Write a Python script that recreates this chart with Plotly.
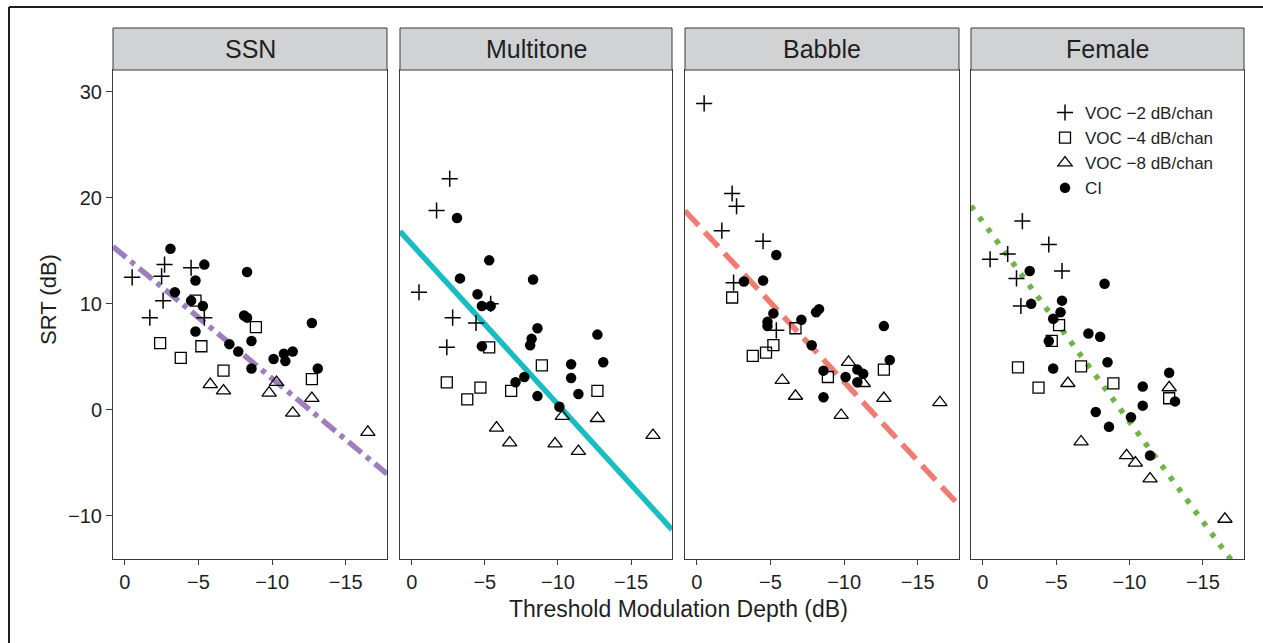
import plotly.graph_objects as go

# ---------------------------------------------------------------- data
panels = ["SSN", "Multitone", "Babble", "Female"]
series_names = ["VOC \u22122 dB/chan", "VOC \u22124 dB/chan", "VOC \u22128 dB/chan", "CI"]

# SSN
ssn_voc2_x = [-0.5, -2.7, -2.5, -4.5, -2.6, -1.7, -5.4]
ssn_voc2_y = [12.5, 13.7, 12.6, 13.4, 10.3, 8.7, 8.7]
ssn_voc4_x = [-2.4, -3.8, -5.2, -4.8, -8.9, -6.7, -12.7]
ssn_voc4_y = [6.3, 4.9, 6.0, 10.3, 7.8, 3.7, 2.9]
ssn_voc8_x = [-5.8, -6.7, -9.8, -10.3, -11.4, -12.7, -16.5]
ssn_voc8_y = [2.4, 1.8, 1.6, 2.6, -0.3, 1.1, -2.1]
ssn_ci_x = [-3.1, -5.4, -4.8, -8.3, -3.4, -4.5, -5.3, -8.1, -8.3, -4.8,
            -12.7, -8.6, -7.1, -7.7, -10.1, -10.8, -11.4, -10.9, -13.1, -8.6]
ssn_ci_y = [15.2, 13.7, 12.2, 13.0, 11.1, 10.3, 9.8, 8.9, 8.7, 7.4,
            8.2, 6.5, 6.2, 5.5, 4.8, 5.3, 5.5, 4.6, 3.9, 3.9]

# Multitone
mt_voc2_x = [-2.6, -1.7, -0.5, -2.8, -2.4, -4.4, -5.4]
mt_voc2_y = [21.8, 18.8, 11.1, 8.7, 5.9, 8.2, 10.0]
mt_voc4_x = [-2.4, -3.8, -4.7, -5.3, -6.8, -8.9, -12.7]
mt_voc4_y = [2.6, 1.0, 2.1, 5.9, 1.8, 4.2, 1.8]
mt_voc8_x = [-5.8, -6.7, -9.8, -10.3, -11.4, -12.7, -16.5]
mt_voc8_y = [-1.7, -3.1, -3.2, -0.6, -3.9, -0.8, -2.4]
mt_ci_x = [-3.1, -5.3, -3.3, -8.3, -4.5, -4.8, -5.4, -8.6, -8.2, -8.1,
           -4.8, -12.7, -13.1, -10.9, -10.9, -7.7, -7.1, -8.6, -11.4, -10.1]
mt_ci_y = [18.1, 14.1, 12.4, 12.3, 10.9, 9.8, 9.8, 7.7, 6.7, 6.1,
           6.0, 7.1, 4.5, 4.3, 3.0, 3.1, 2.6, 1.3, 1.5, 0.3]

# Babble
bab_voc2_x = [-0.5, -2.4, -2.7, -1.7, -4.5, -2.5, -5.4]
bab_voc2_y = [28.9, 20.4, 19.2, 16.9, 15.9, 12.0, 7.5]
bab_voc4_x = [-2.4, -3.8, -4.7, -5.2, -6.7, -8.9, -12.7]
bab_voc4_y = [10.6, 5.1, 5.4, 6.1, 7.7, 3.1, 3.8]
bab_voc8_x = [-5.8, -6.7, -9.8, -10.3, -11.3, -12.7, -16.5]
bab_voc8_y = [2.8, 1.3, -0.5, 4.5, 2.5, 1.1, 0.7]
bab_ci_x = [-5.4, -3.2, -4.5, -8.3, -8.1, -5.2, -7.1, -4.8, -4.8, -7.8,
            -12.7, -13.1, -8.6, -10.9, -11.3, -10.1, -10.9, -8.6]
bab_ci_y = [14.6, 12.1, 12.2, 9.5, 9.2, 9.1, 8.5, 8.3, 7.9, 6.1,
            7.9, 4.7, 3.7, 3.8, 3.4, 3.1, 2.6, 1.2]

# Female
fem_voc2_x = [-2.7, -4.5, -0.5, -1.7, -5.4, -2.3, -2.6]
fem_voc2_y = [17.8, 15.6, 14.2, 14.7, 13.1, 12.4, 9.8]
fem_voc4_x = [-2.4, -3.8, -4.7, -5.2, -6.7, -8.9, -12.7]
fem_voc4_y = [4.0, 2.1, 6.5, 8.0, 4.1, 2.5, 1.1]
fem_voc8_x = [-5.8, -6.7, -9.8, -10.4, -11.4, -12.7, -16.5]
fem_voc8_y = [2.5, -3.0, -4.3, -5.0, -6.5, 2.1, -10.3]
fem_ci_x = [-3.2, -8.3, -5.4, -3.3, -5.3, -4.8, -7.2, -8.0, -4.5, -8.5,
            -4.8, -12.7, -10.9, -13.1, -10.9, -7.7, -10.1, -8.6, -11.4]
fem_ci_y = [13.1, 11.9, 10.3, 10.0, 9.2, 8.6, 7.2, 6.9, 6.5, 4.5,
            3.9, 3.5, 2.2, 0.8, 0.4, -0.2, -0.7, -1.6, -4.3]

# regression lines: SRT = intercept + slope * depth
fit_intercept = [14.48, 15.63, 17.58, 17.73]
fit_slope = [1.152, 1.512, 1.493, 1.884]

x_tickvals = [0, -5, -10, -15]
x_ticktext = ["0", "\u22125", "\u221210", "\u221215"]
y_tickvals = [30, 20, 10, 0, -10]
y_ticktext = ["30", "20", "10", "0", "\u221210"]

panel_data = [
    [(ssn_voc2_x, ssn_voc2_y), (ssn_voc4_x, ssn_voc4_y), (ssn_voc8_x, ssn_voc8_y), (ssn_ci_x, ssn_ci_y)],
    [(mt_voc2_x, mt_voc2_y), (mt_voc4_x, mt_voc4_y), (mt_voc8_x, mt_voc8_y), (mt_ci_x, mt_ci_y)],
    [(bab_voc2_x, bab_voc2_y), (bab_voc4_x, bab_voc4_y), (bab_voc8_x, bab_voc8_y), (bab_ci_x, bab_ci_y)],
    [(fem_voc2_x, fem_voc2_y), (fem_voc4_x, fem_voc4_y), (fem_voc8_x, fem_voc8_y), (fem_ci_x, fem_ci_y)],
]

# ---------------------------------------------------------------- styling
W, H = 1263, 643
FONT = "Liberation Sans, Arial, Helvetica, sans-serif"
TXT = "#1f1f1f"
FRAME = "#3a3a3a"

x_range = [0.8, -17.8]
y_range = [-14.06, 32.05]
panel_px = [(113, 387), (400, 672), (685, 959), (971, 1244)]
plot_top_px, plot_bottom_px, strip_top_px = 70, 559, 28

line_colors = ["#9d7fc0", "#19bcc0", "#f07b72", "#6db544"]
line_dashes = ["17px,6px,5px,6px", "solid", "20px,9px", "5px,9px"]

marker_styles = [
    dict(symbol="cross-thin-open", size=11.5, color="black", line=dict(width=1.5, color="black")),
    dict(symbol="square-open", size=11, color="black", line=dict(width=1.3, color="black")),
    dict(symbol="triangle-up-open", size=12.5, color="black", line=dict(width=1.3, color="black")),
    dict(symbol="circle", size=10.5, color="black", line=dict(width=0)),
]


def px_x(p):
    return p / W


def px_y(p):
    return 1 - p / H


fig = go.Figure()
layout = dict(
    width=W, height=H, autosize=False,
    margin=dict(l=0, r=0, t=0, b=0),
    paper_bgcolor="white", plot_bgcolor="white",
    font=dict(family=FONT, color=TXT),
    showlegend=True,
    legend=dict(
        x=px_x(1045), y=px_y(95), xanchor="left", yanchor="top",
        bgcolor="rgba(0,0,0,0)", borderwidth=0,
        font=dict(size=17, color=TXT, family=FONT),
        traceorder="normal", tracegroupgap=0,
    ),
)

shapes = []
annotations = []

for i, name in enumerate(panels):
    suffix = "" if i == 0 else str(i + 1)
    xa, ya = "x" + suffix, "y" + suffix
    left, right = panel_px[i]

    # fitted line across the full panel width
    lx = list(x_range)
    ly = [fit_intercept[i] + fit_slope[i] * v for v in lx]
    fig.add_trace(go.Scatter(
        x=lx, y=ly, mode="lines", xaxis=xa, yaxis=ya, showlegend=False,
        line=dict(color=line_colors[i], width=5.5, dash=line_dashes[i]),
        hoverinfo="skip",
    ))

    for g, (gx, gy) in enumerate(panel_data[i]):
        fig.add_trace(go.Scatter(
            x=gx, y=gy, mode="markers", xaxis=xa, yaxis=ya,
            name=series_names[g], legendgroup=series_names[g],
            showlegend=(i == 3), marker=marker_styles[g],
        ))

    layout["xaxis" + suffix] = dict(
        domain=[px_x(left), px_x(right)], range=x_range, anchor=ya,
        showgrid=False, zeroline=False,
        showline=True, mirror=True, linecolor=FRAME, linewidth=1,
        ticks="outside", ticklen=5, tickwidth=1, tickcolor=FRAME,
        tickvals=x_tickvals, ticktext=x_ticktext,
        tickfont=dict(size=20, color=TXT, family=FONT),
    )
    yax = dict(
        domain=[px_y(plot_bottom_px), px_y(plot_top_px)], range=y_range, anchor=xa,
        showgrid=False, zeroline=False,
        showline=True, mirror=True, linecolor=FRAME, linewidth=1,
        tickvals=y_tickvals, ticktext=y_ticktext,
    )
    if i == 0:
        yax.update(ticks="outside", ticklen=6, tickwidth=1, tickcolor=FRAME,
                   tickfont=dict(size=20, color=TXT, family=FONT))
    else:
        yax.update(showticklabels=False, ticks="")
    layout["yaxis" + suffix] = yax

    # facet strip
    shapes.append(dict(
        type="rect", xref="paper", yref="paper",
        x0=px_x(left), x1=px_x(right), y0=px_y(plot_top_px), y1=px_y(strip_top_px),
        fillcolor="#d1d2d4", line=dict(color=FRAME, width=1), layer="above",
    ))
    annotations.append(dict(
        text=name, xref="paper", yref="paper",
        x=px_x((left + right) / 2), y=px_y((plot_top_px + strip_top_px) / 2),
        xanchor="center", yanchor="middle", showarrow=False,
        font=dict(size=25, color=TXT, family=FONT),
    ))

# axis titles
annotations.append(dict(
    text="Threshold Modulation Depth (dB)", xref="paper", yref="paper",
    x=px_x(678), y=px_y(609), xanchor="center", yanchor="middle", showarrow=False,
    font=dict(size=23, color=TXT, family=FONT),
))
annotations.append(dict(
    text="SRT (dB)", xref="paper", yref="paper",
    x=px_x(48), y=px_y(300), xanchor="center", yanchor="middle", showarrow=False,
    textangle=-90, font=dict(size=22, color=TXT, family=FONT),
))

# outer figure frame (top and left edges)
shapes.append(dict(type="line", xref="paper", yref="paper",
                   x0=px_x(9), x1=1.01, y0=px_y(7), y1=px_y(7),
                   line=dict(color="#1e1e1e", width=2)))
shapes.append(dict(type="line", xref="paper", yref="paper",
                   x0=px_x(9), x1=px_x(9), y0=px_y(7), y1=-0.01,
                   line=dict(color="#1e1e1e", width=2)))

layout["shapes"] = shapes
layout["annotations"] = annotations
fig.update_layout(**layout)

fig.write_html("out.html")
